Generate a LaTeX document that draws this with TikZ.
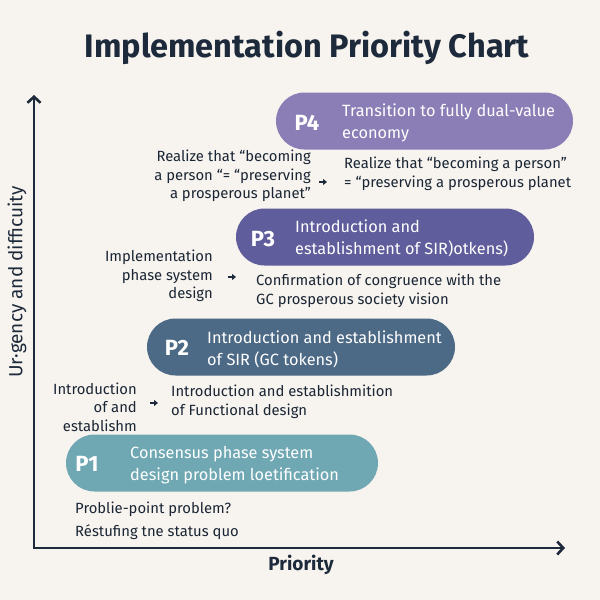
\documentclass[tikz,border=0pt]{standalone}
\usepackage{fontspec}
\setmainfont{Fira Sans}
\usetikzlibrary{positioning,arrows.meta,shapes.misc}
\definecolor{bg}{HTML}{F7F3EE}
\definecolor{ink}{HTML}{1D2A3B}
\definecolor{pone}{HTML}{6FA7B3}
\definecolor{ptwo}{HTML}{4C6985}
\definecolor{pthree}{HTML}{5F5D9B}
\definecolor{pfour}{HTML}{8B7EB6}
\tikzstyle{signal}=[-{Triangle[length=4pt,width=6pt]},draw=ink,line width=1.3pt]
\tikzstyle{axis}=[-{Straight Barb[length=6pt,width=13pt,line width=2.6pt]},draw=ink,line width=2.6pt]
\tikzstyle{pill}=[rounded rectangle,draw=none,minimum height=57pt,inner sep=0pt]
\tikzstyle{tag}=[text=white,inner sep=0pt,font=\fontsize{22}{22}\selectfont\bfseries]
\tikzstyle{phase}=[text=white,inner sep=0pt,anchor=west,align=left,
    font=\fontsize{16.3}{22}\selectfont]
\tikzstyle{note}=[text=ink!90!black,inner sep=0pt,font=\fontsize{14.8}{18.5}\selectfont]
\begin{document}
\begin{tikzpicture}[x=1pt,y=-1pt]
    \fill[bg] (0,0) rectangle (600,600);
    \useasboundingbox (0,0) rectangle (600,600);
    \node[text=ink,font=\fontsize{32.5}{32.5}\selectfont\bfseries] (title) at (307,48) {Implementation Priority Chart};
    \coordinate (origin) at (34,548);
    \coordinate (ytip) at (34,95);
    \coordinate (xtip) at (565,548);
    \draw[axis] (origin) -- (ytip);
    \draw[axis] ([xshift=-1.3pt]origin) -- (xtip);
    \node[text=ink,rotate=90,font=\fontsize{19}{19}\selectfont] (ylabel) at (17,282) {Ur·gency and difficuity};
    \node[text=ink,font=\fontsize{19}{19}\selectfont\bfseries] (xlabel) at (301,565) {Priority};
    \node[pill,fill=pfour,minimum width=297pt] (p4) at (424.5,121) {};
    \node[tag] (t4) at (307,123) {P4};
    \node[phase] (d4) at (342,123) {Transition to fully dual-value\\economy};
    \node[pill,fill=pthree,minimum width=298pt] (p3) at (385,237) {};
    \node[tag] (t3) at (263,239) {P3};
    \node[phase] (d3) at (295,238) {Introduction and\\establishment of SIR)otkens)};
    \node[pill,fill=ptwo,minimum width=308pt] (p2) at (301,347) {};
    \node[tag] (t2) at (177,348) {P2};
    \node[phase] (d2) at (207,349) {Introduction and establishment\\of SIR (GC tokens)};
    \node[pill,fill=pone,minimum width=312pt] (p1) at (222,463) {};
    \node[tag] (t1) at (87,464) {P1};
    \node[phase] (d1) at (130,465) {Consensus phase system\\design problem loetification};
    \node[note,align=right,anchor=east] (r4l) at (311,176) {Realize that “becoming\\a person “= “preserving\\a prosperous planet”};
    \node[note,align=left,anchor=west] (r4r) at (344,174) {Realize that “becoming a person”\\= “preserving a prosperous planet};
    \coordinate (a4) at (319,182);
    \coordinate (b4) at (327,182);
    \draw[signal] (a4) -- (b4);
    \node[note,align=right,anchor=east] (r3l) at (213,276) {Implementation\\phase system\\design};
    \node[note,align=left,anchor=west] (r3r) at (256,291) {Confirmation of congruence with the\\GC prosperous society vision};
    \coordinate (a3) at (228,277);
    \coordinate (b3) at (236,277);
    \draw[signal] (a3) -- (b3);
    \node[note,align=right,anchor=east] (r2l) at (137,407) {Introduction\\of and\\establishm};
    \node[note,align=left,anchor=west] (r2r) at (171,402) {Introduction and establishmition\\of Functional design};
    \coordinate (a2) at (150,403);
    \coordinate (b2) at (158,403);
    \draw[signal] (a2) -- (b2);
    \node[note,align=left,anchor=west,font=\fontsize{14.8}{23}\selectfont] (r1) at (75,521) {Problie-point problem?\\Réstufing tne status quo};
\end{tikzpicture}
\end{document}
